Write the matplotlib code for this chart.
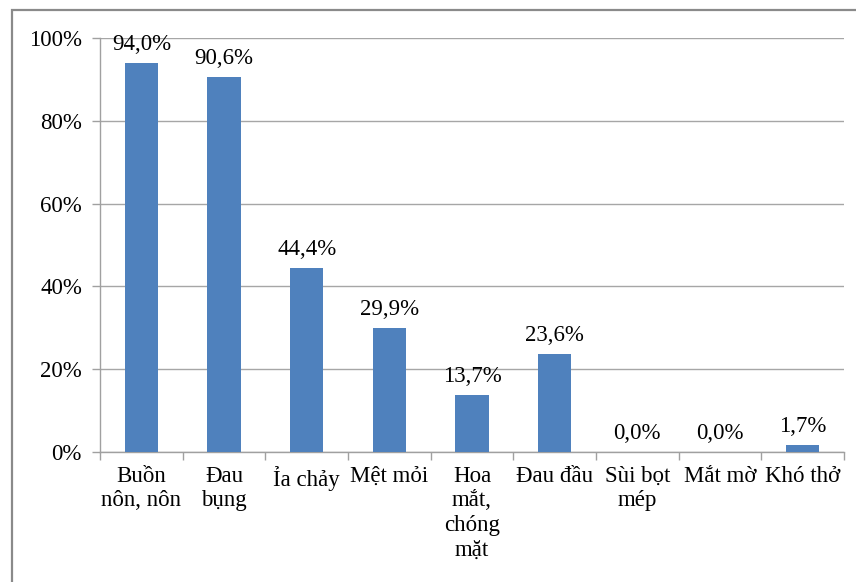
import matplotlib
matplotlib.use("Agg")
import matplotlib.pyplot as plt
from matplotlib.patches import Rectangle
from matplotlib.ticker import FixedLocator, PercentFormatter
import numpy as np

categories = ["Buồn\nnôn, nôn", "Đau\nbụng", "Ỉa chảy", "Mệt mỏi", "Hoa\nmắt,\nchóng\nmặt",
              "Đau đầu", "Sùi bọt\nmép", "Mắt mờ", "Khó thở"]
values = [94.0, 90.6, 44.4, 29.9, 13.7, 23.6, 0.0, 0.0, 1.7]
yticks = [0, 20, 40, 60, 80, 100]

plt.rcParams['font.family'] = ['Liberation Serif', 'DejaVu Serif']
FS = 16.5

fig = plt.figure(figsize=(8.56, 5.82), dpi=100)
fig.patch.set_facecolor('white')
# outer frame
fig.patches.append(Rectangle((12/856, -0.05), 1.2, 1 - 10/582 + 0.05, transform=fig.transFigure,
                             fill=False, edgecolor='#8a8a8a', linewidth=1.6, zorder=0))

ax = fig.add_axes([100/856, 130/582, 744/856, 414/582])
x = np.arange(len(categories))
ax.bar(x, values, width=0.4, color='#4F81BD', zorder=3)
ax.set_xlim(-0.5, len(categories) - 0.5)
ax.set_ylim(0, 100)
ax.set_yticks(yticks)
ax.yaxis.set_major_formatter(PercentFormatter(decimals=0))
ax.yaxis.grid(True, color='#a6a6a6', linewidth=1.0, zorder=0)
ax.set_axisbelow(True)

for s in ['top', 'right']:
    ax.spines[s].set_visible(False)
for s in ['left', 'bottom']:
    ax.spines[s].set_color('#a0a0a0')
    ax.spines[s].set_linewidth(1.0)

ax.set_xticks(x)
ax.set_xticklabels(categories, fontsize=FS, linespacing=1.22)
ax.tick_params(axis='x', length=0, pad=10)
ax.xaxis.set_minor_locator(FixedLocator(np.arange(-0.5, len(categories), 1)))
ax.tick_params(axis='x', which='minor', length=6, color='#a0a0a0', width=1.0)
ax.tick_params(axis='y', length=6, color='#a0a0a0', width=1.0, labelsize=FS, pad=7)

for xi, v in zip(x, values):
    ax.annotate(f"{v:.1f}%".replace('.', ','), (xi, v), xytext=(0, 6), textcoords='offset points',
                ha='center', va='bottom', fontsize=FS)

fig.savefig("out.png", dpi=100)
